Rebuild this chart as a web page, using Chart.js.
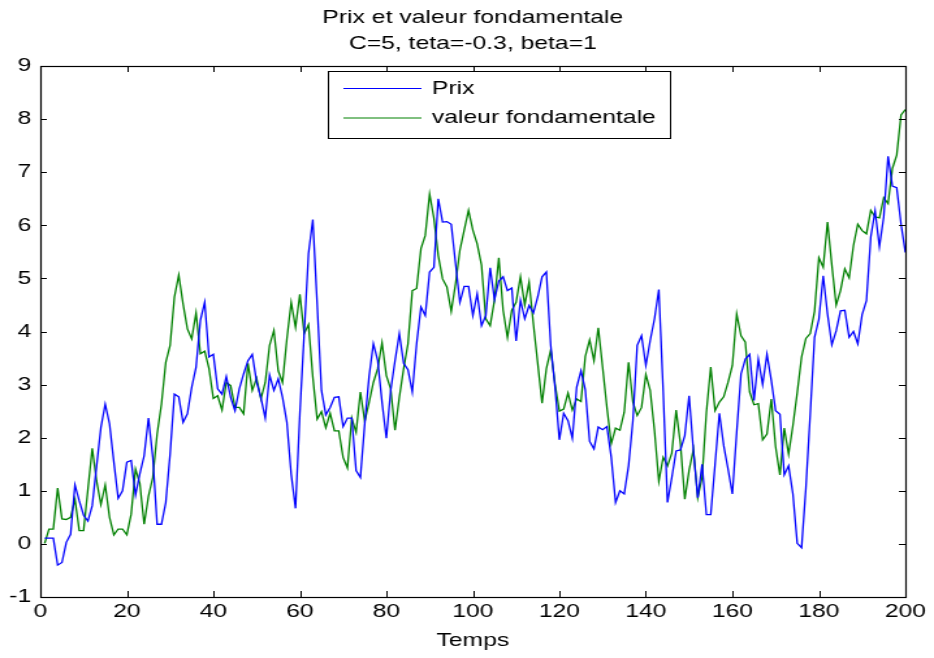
<!DOCTYPE html>
<html>
<head>
<meta charset="utf-8">
<script src="https://cdn.jsdelivr.net/npm/chart.js@4/dist/chart.umd.min.js"></script>
<style>
  html, body { margin: 0; padding: 0; background: #fff; overflow: hidden; }
  /* the reference figure is stretched horizontally, so the chart is drawn narrow and scaled */
  #wrap { width: 718px; height: 658px; transform: scaleX(1.3008); transform-origin: 0 0; }
</style>
</head>
<body>
<div id="wrap"><canvas id="chart"></canvas></div>
<script>
// temps 1..200
const temps = Array.from({ length: 200 }, (_, i) => i + 1);

const prix = [
  0.11, 0.11, 0.11, -0.40, -0.35, 0.03, 0.18, 1.11, 0.81, 0.54,
  0.43, 0.72, 1.46, 2.19, 2.63, 2.26, 1.54, 0.86, 1.00, 1.54,
  1.57, 0.92, 1.32, 1.66, 2.37, 1.63, 0.37, 0.37, 0.78, 1.69,
  2.82, 2.77, 2.29, 2.45, 2.95, 3.33, 4.21, 4.55, 3.52, 3.57,
  2.92, 2.82, 3.15, 2.76, 2.51, 2.92, 3.20, 3.45, 3.57, 3.05,
  2.75, 2.37, 3.18, 2.89, 3.11, 2.76, 2.29, 1.31, 0.67, 2.45,
  3.96, 5.47, 6.11, 4.52, 2.89, 2.43, 2.57, 2.76, 2.77, 2.21,
  2.37, 2.37, 1.38, 1.25, 2.26, 3.15, 3.77, 3.45, 2.67, 1.99,
  2.89, 3.45, 3.96, 3.40, 3.28, 2.86, 3.77, 4.46, 4.30, 5.12,
  5.21, 6.50, 6.06, 6.07, 6.02, 5.28, 4.55, 4.85, 4.85, 4.30,
  4.71, 4.11, 4.30, 5.20, 4.60, 4.95, 5.03, 4.77, 4.82, 3.82,
  4.59, 4.24, 4.49, 4.35, 4.65, 5.03, 5.12, 3.74, 2.95, 1.96,
  2.46, 2.32, 1.99, 2.95, 3.26, 2.90, 1.93, 1.79, 2.20, 2.15,
  2.21, 1.63, 0.78, 1.00, 0.94, 1.47, 2.32, 3.74, 3.92, 3.36,
  3.83, 4.24, 4.79, 2.89, 0.78, 1.25, 1.75, 1.77, 2.04, 2.79,
  1.75, 0.87, 1.50, 0.55, 0.55, 1.50, 2.46, 1.85, 1.41, 0.94,
  2.10, 3.20, 3.48, 3.57, 2.70, 3.48, 3.00, 3.57, 3.08, 2.51,
  2.44, 1.30, 1.47, 0.94, 0.01, -0.07, 1.05, 2.44, 3.89, 4.23,
  5.05, 4.33, 3.75, 4.01, 4.39, 4.40, 3.89, 4.00, 3.77, 4.32,
  4.58, 5.78, 6.27, 5.60, 6.16, 7.30, 6.74, 6.71, 6.02, 5.49
];

const valeurFondamentale = [
  0.01, 0.28, 0.28, 1.05, 0.47, 0.46, 0.50, 0.84, 0.25, 0.25,
  1.03, 1.80, 1.19, 0.74, 1.11, 0.50, 0.17, 0.28, 0.28, 0.17,
  0.56, 1.41, 1.14, 0.37, 0.90, 1.25, 2.07, 2.63, 3.42, 3.74,
  4.65, 5.06, 4.52, 4.05, 3.86, 4.35, 3.58, 3.63, 3.30, 2.74,
  2.79, 2.52, 3.04, 2.98, 2.57, 2.57, 2.45, 3.40, 2.89, 3.12,
  2.73, 3.04, 3.74, 4.02, 3.26, 3.04, 3.86, 4.55, 4.08, 4.70,
  3.96, 4.13, 3.14, 2.35, 2.49, 2.19, 2.46, 2.13, 2.13, 1.63,
  1.43, 2.37, 2.10, 2.86, 2.31, 2.66, 3.04, 3.30, 3.79, 3.17,
  2.92, 2.14, 2.76, 3.30, 3.77, 4.77, 4.81, 5.56, 5.81, 6.59,
  6.13, 5.43, 4.99, 4.84, 4.38, 4.90, 5.53, 5.91, 6.28, 5.91,
  5.65, 5.25, 4.24, 4.11, 4.59, 5.39, 4.40, 3.89, 4.40, 4.55,
  5.03, 4.50, 4.93, 4.14, 3.40, 2.65, 3.30, 3.65, 3.01, 2.50,
  2.54, 2.84, 2.52, 2.73, 2.68, 3.53, 3.84, 3.45, 4.07, 3.33,
  2.57, 1.89, 2.18, 2.14, 2.48, 3.42, 2.67, 2.42, 2.57, 3.19,
  2.89, 2.13, 1.18, 1.63, 1.47, 1.71, 2.52, 1.88, 0.84, 1.39,
  1.78, 0.87, 1.25, 2.48, 3.33, 2.51, 2.67, 2.77, 3.04, 3.36,
  4.33, 3.92, 3.80, 2.86, 2.62, 2.64, 1.96, 2.07, 2.73, 1.83,
  1.30, 2.18, 1.69, 2.23, 2.85, 3.52, 3.87, 3.96, 4.38, 5.39,
  5.21, 6.06, 5.25, 4.50, 4.77, 5.18, 5.01, 5.62, 6.02, 5.90,
  5.84, 6.28, 6.16, 6.14, 6.52, 6.41, 7.07, 7.32, 8.08, 8.18
];

const titre = ["Prix et valeur fondamentale", "C=5, teta=-0.3, beta=1"];
const xTicks = { min: 0, max: 200, step: 20 };
const yTicks = { min: -1, max: 9, step: 1 };

const FONT = '"Liberation Sans", Arial, sans-serif';

// cadre, petits traits vers l'intérieur, titre et légende façon Matlab
const cadreMatlab = {
  id: 'cadreMatlab',
  afterDraw(chart) {
    const { ctx, chartArea: a, scales: { x, y } } = chart;
    ctx.save();
    ctx.strokeStyle = '#000';
    ctx.lineWidth = 1.2;
    ctx.strokeRect(Math.round(a.left) + 0.5, Math.round(a.top) + 0.5,
      Math.round(a.right) - Math.round(a.left), Math.round(a.bottom) - Math.round(a.top));

    ctx.lineWidth = 1;
    ctx.beginPath();
    x.ticks.forEach(t => {
      const px = Math.round(x.getPixelForValue(t.value)) + 0.5;
      ctx.moveTo(px, a.bottom); ctx.lineTo(px, a.bottom - 6);
      ctx.moveTo(px, a.top); ctx.lineTo(px, a.top + 6);
    });
    y.ticks.forEach(t => {
      const py = Math.round(y.getPixelForValue(t.value)) + 0.5;
      ctx.moveTo(a.left, py); ctx.lineTo(a.left + 5, py);
      ctx.moveTo(a.right, py); ctx.lineTo(a.right - 5, py);
    });
    ctx.stroke();

    // titre
    const cx = (a.left + a.right) / 2;
    ctx.fillStyle = '#000';
    ctx.font = '19px ' + FONT;
    ctx.textAlign = 'center';
    ctx.textBaseline = 'middle';
    ctx.fillText(titre[0], cx, 18);
    ctx.fillText(titre[1], cx, 44);

    // légende
    const bx = 252.5, by = 71.5, bw = 263, bh = 67;
    ctx.fillStyle = '#fff';
    ctx.fillRect(bx, by, bw, bh);
    ctx.strokeRect(bx, by, bw, bh);
    ctx.textAlign = 'left';
    chart.data.datasets.forEach((ds, i) => {
      const ly = 88.5 + i * 29.5;
      ctx.strokeStyle = ds.borderColor;
      ctx.beginPath();
      ctx.moveTo(264, ly); ctx.lineTo(324, ly);
      ctx.stroke();
      ctx.fillStyle = '#000';
      ctx.fillText(ds.label, 332, ly);
    });
    ctx.restore();
  }
};

new Chart(document.getElementById('chart'), {
  type: 'line',
  data: {
    datasets: [
      {
        label: 'Prix',
        data: temps.map((t, i) => ({ x: t, y: prix[i] })),
        borderColor: '#0000ff',
        borderWidth: 1.3,
        pointRadius: 0,
        tension: 0
      },
      {
        label: 'valeur fondamentale',
        data: temps.map((t, i) => ({ x: t, y: valeurFondamentale[i] })),
        borderColor: '#008000',
        borderWidth: 1.3,
        pointRadius: 0,
        tension: 0
      }
    ]
  },
  options: {
    responsive: true,
    maintainAspectRatio: false,
    animation: false,
    layout: { padding: { top: 66, right: 22, left: 0, bottom: 0 } },
    plugins: {
      legend: { display: false },
      title: { display: false },
      tooltip: { enabled: false }
    },
    scales: {
      x: {
        type: 'linear',
        min: xTicks.min,
        max: xTicks.max,
        ticks: { stepSize: xTicks.step, color: '#000', padding: 3, maxRotation: 0, font: { family: FONT, size: 19 } },
        grid: { display: false, drawTicks: false },
        border: { display: false },
        title: { display: true, text: 'Temps', color: '#000', padding: { top: 0, bottom: 6 }, font: { family: FONT, size: 19 } },
        afterFit: s => { s.height = 61; }
      },
      y: {
        min: yTicks.min,
        max: yTicks.max,
        ticks: { stepSize: yTicks.step, color: '#000', padding: 7, font: { family: FONT, size: 19 } },
        grid: { display: false, drawTicks: false },
        border: { display: false },
        afterFit: s => { s.width = 31; }
      }
    }
  },
  plugins: [cadreMatlab]
});
</script>
</body>
</html>
